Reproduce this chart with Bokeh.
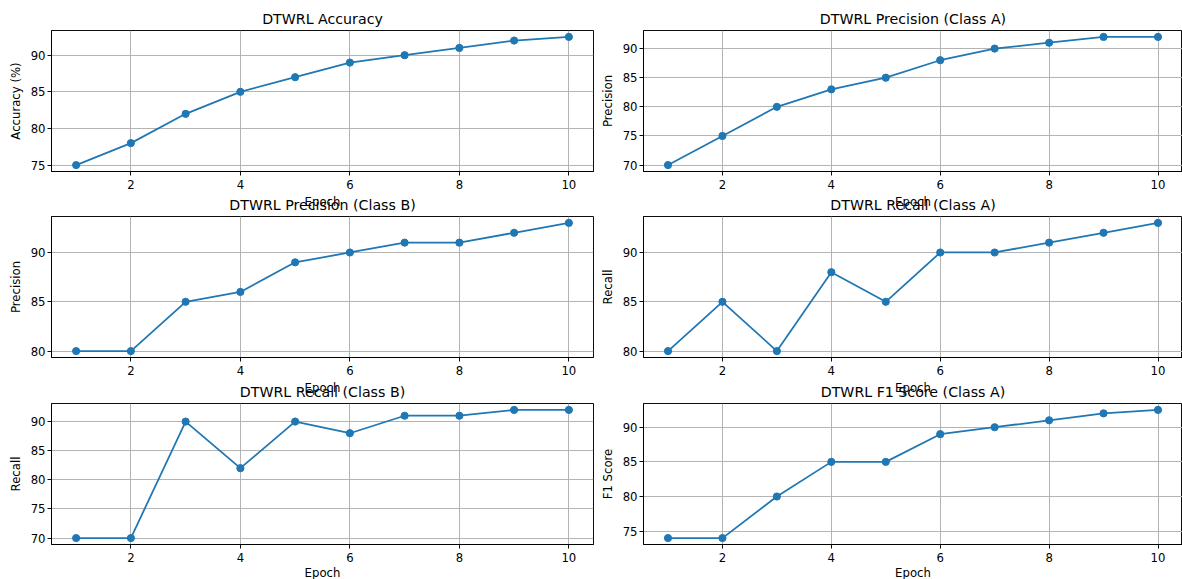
from bokeh.plotting import figure
from bokeh.layouts import gridplot
from bokeh.models import SingleIntervalTicker, Range1d, Title
from bokeh.embed import file_html
from bokeh.resources import INLINE

epochs = [1, 2, 3, 4, 5, 6, 7, 8, 9, 10]
accuracy = [75, 78, 82, 85, 87, 89, 90, 91, 92, 92.5]
precision_a = [70, 75, 80, 83, 85, 88, 90, 91, 92, 92]
precision_b = [80, 80, 85, 86, 89, 90, 91, 91, 92, 93]
recall_a = [80, 85, 80, 88, 85, 90, 90, 91, 92, 93]
recall_b = [70, 70, 90, 82, 90, 88, 91, 91, 92, 92]
f1_a = [74, 74, 80, 85, 85, 89, 90, 91, 92, 92.5]

titles = ["DTWRL Accuracy", "DTWRL Precision (Class A)",
          "DTWRL Precision (Class B)", "DTWRL Recall (Class A)",
          "DTWRL Recall (Class B)", "DTWRL F1 Score (Class A)"]
ylabels = ["Accuracy (%)", "Precision", "Precision", "Recall", "Recall", "F1 Score"]
series = [accuracy, precision_a, precision_b, recall_a, recall_b, f1_a]
xlabel = "Epoch"

FONT = "DejaVu Sans"
BLUE = "#1f77b4"
TICK_FS = "11.7px"
TITLE_FS = "14.2px"
FRAME_H = 141
FRAME_W = [542, 539]
TOPS = [30, 25, 26]
BOTTOMS = [20, 20, 35]
LEFTS = [51, 48]
RIGHTS = [2, 0]
TITLE_STANDOFF = [8, 7, 8]


def yrange(vals):
    lo, hi = min(vals), max(vals)
    pad = (hi - lo) * 0.05
    return lo - pad, hi + pad


def xrange_():
    lo, hi = min(epochs), max(epochs)
    pad = (hi - lo) * 0.05
    return lo - pad, hi + pad


def text_title(text, size, standoff):
    return Title(text=text, text_font=FONT, text_font_size=size,
                 text_font_style="normal", text_color="black",
                 align="center", standoff=standoff)


figs = []
for i, (t, yl, vals) in enumerate(zip(titles, ylabels, series)):
    r, c = divmod(i, 2)
    y0, y1 = yrange(vals)
    x0, x1 = xrange_()
    p = figure(frame_width=FRAME_W[c], frame_height=FRAME_H,
               min_border_top=TOPS[r], min_border_bottom=BOTTOMS[r],
               min_border_left=LEFTS[c], min_border_right=RIGHTS[c],
               x_range=Range1d(x0, x1), y_range=Range1d(y0, y1),
               output_backend="svg", toolbar_location=None,
               background_fill_color="white", border_fill_color="white",
               title_location=None)
    p.add_layout(text_title(t, TITLE_FS, TITLE_STANDOFF[r]), "above")
    if r >= 1:
        # x label of the row above, overlapping this title as in the original
        p.add_layout(text_title("\n" + xlabel, TICK_FS, -35), "above")
    if r == 2:
        p.add_layout(text_title(xlabel, TICK_FS, -1), "below")
    p.outline_line_color = "black"
    p.outline_line_width = 0.95
    p.outline_line_alpha = 1

    p.xaxis.ticker = SingleIntervalTicker(interval=2)
    p.yaxis.ticker = SingleIntervalTicker(interval=5)
    for ax in (p.xaxis[0], p.yaxis[0]):
        ax.major_label_text_font = FONT
        ax.major_label_text_font_size = TICK_FS
        ax.major_label_text_color = "black"
        ax.major_tick_out = 4
        ax.major_tick_in = 0
        ax.minor_tick_out = 0
        ax.minor_tick_in = 0
        ax.major_tick_line_color = "black"
        ax.major_tick_line_width = 0.95
        ax.axis_line_color = "black"
        ax.axis_line_width = 0.95
    p.xaxis.major_label_standoff = 4
    p.yaxis.major_label_standoff = 2
    p.yaxis.axis_label = yl
    p.yaxis.axis_label_text_font = FONT
    p.yaxis.axis_label_text_font_size = TICK_FS
    p.yaxis.axis_label_text_font_style = "normal"
    p.yaxis.axis_label_text_color = "black"
    p.yaxis.axis_label_standoff = 5

    p.grid.grid_line_color = "#b0b0b0"
    p.grid.grid_line_width = 0.95

    p.line(epochs, vals, line_color=BLUE, line_width=1.76)
    p.scatter(epochs, vals, size=7.2, fill_color=BLUE, line_color=BLUE)
    figs.append(p)

grid = gridplot([[figs[0], figs[1]], [figs[2], figs[3]], [figs[4], figs[5]]],
                toolbar_location=None)

open("out.html", "w").write(file_html(grid, INLINE))
